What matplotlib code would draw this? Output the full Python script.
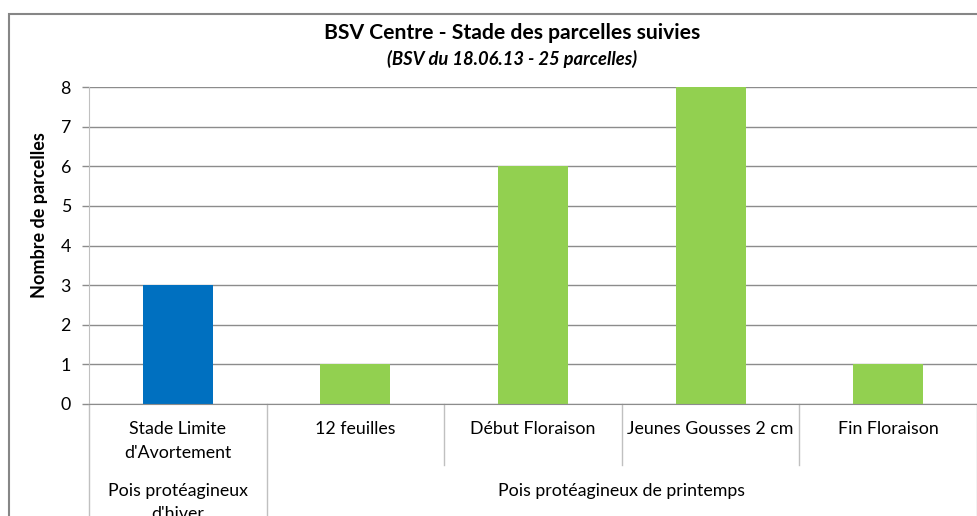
import matplotlib
matplotlib.use("Agg")
import matplotlib.pyplot as plt
from matplotlib.patches import Rectangle
import matplotlib.transforms as mtransforms

categories = ["Stade Limite\nd'Avortement", "12 feuilles", "Début Floraison",
              "Jeunes Gousses 2 cm", "Fin Floraison"]
values = [3, 1, 6, 8, 1]
groups = ["Pois protéagineux\nd'hiver", "Pois protéagineux de printemps"]
group_sizes = [1, 4]
bar_colors = ["#0070C0", "#92D050", "#92D050", "#92D050", "#92D050"]
yticks = [0, 1, 2, 3, 4, 5, 6, 7, 8]

plt.rcParams['font.family'] = ['Lato', 'DejaVu Sans']

W, H = 977, 516
fig = plt.figure(figsize=(W/100, H/100), dpi=100)

def fx(px):
    return px / W

def fy(py):
    return 1 - py / H

ax_l, ax_r, ax_t, ax_b = 89, 977, 87, 404
ax = fig.add_axes([fx(ax_l), fy(ax_b), fx(ax_r - ax_l), (ax_b - ax_t) / H])

x = list(range(len(categories)))
ax.bar(x, values, width=0.395, color=bar_colors, zorder=3)
ax.set_xlim(-0.5, len(categories) - 0.5)
ax.set_ylim(0, 8)
ax.set_yticks(yticks)
ax.set_yticklabels([str(v) for v in yticks], fontsize=12.8)
ax.tick_params(axis='y', length=5, width=1, color='#8C8C8C', pad=8)
ax.set_xticks([])
ax.grid(axis='y', color='#8C8C8C', linewidth=1, zorder=0)
for s in ['top', 'right']:
    ax.spines[s].set_visible(False)
ax.spines['left'].set_color('#C0C0C0')
ax.spines['bottom'].set_color('#8C8C8C')
ax.spines['bottom'].set_zorder(4)

trans = mtransforms.blended_transform_factory(ax.transData, ax.transAxes)
axh = ax_b - ax_t
lvl1_bottom = -(465 - ax_b) / axh
fig_bottom = -(H + 20 - ax_b) / axh
line_step = 24

def ay(py):
    return -(py - ax_b) / axh

# category labels (one text per line)
for i, c in enumerate(categories):
    for k, line in enumerate(c.split("\n")):
        ax.text(i, ay(429 + line_step * k), line, transform=trans, ha='center', va='center',
                fontsize=12.8, clip_on=False)

# separators
start = 0
bounds = [-0.5]
for gs in group_sizes:
    start += gs
    bounds.append(start - 0.5)
for b in range(len(categories) + 1):
    xb = b - 0.5
    yb = fig_bottom if xb in bounds else lvl1_bottom
    ax.plot([xb, xb], [0, yb], transform=trans, color='#C0C0C0', lw=1, clip_on=False)

start = 0
for g, gs in zip(groups, group_sizes):
    center = start + (gs - 1) / 2
    for k, line in enumerate(g.split("\n")):
        ax.text(center, ay(491 + 23 * k), line, transform=trans, ha='center', va='center',
                fontsize=12.8, clip_on=False)
    start += gs

ax.set_ylabel("Nombre de parcelles", fontsize=13, fontweight='bold')
ax.yaxis.set_label_coords(-(ax_l - 48) / (ax_r - ax_l), 0.5 - (215 - (ax_t + ax_b) / 2) / axh)

fig.text(fx(512), fy(33), "BSV Centre - Stade des parcelles suivies", ha='center', va='center',
         fontsize=15.2, fontweight='bold')
fig.text(fx(512), fy(59), "(BSV du 18.06.13 - 25 parcelles)", ha='center', va='center',
         fontsize=13.2, fontweight='bold', style='italic')

fig.patches.append(Rectangle((fx(8.5), fy(600)), 2, fy(13.5) - fy(600), transform=fig.transFigure,
                             fill=False, edgecolor='#868686', lw=1.5))

fig.savefig("out.png", dpi=100)
